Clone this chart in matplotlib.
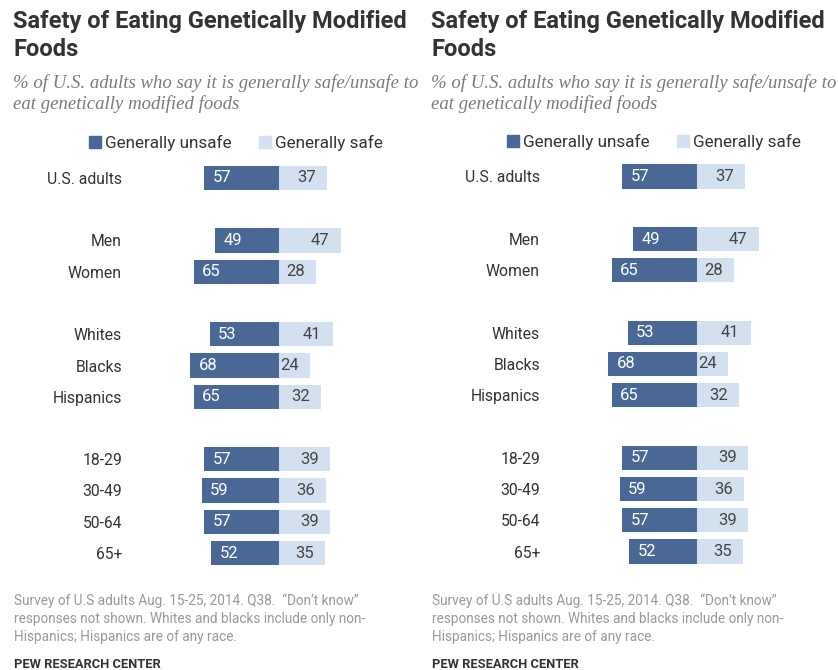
import matplotlib.pyplot as plt
from matplotlib.patches import Patch

# data
categories = ["U.S. adults", "Men", "Women", "Whites", "Blacks", "Hispanics",
              "18-29", "30-49", "50-64", "65+"]
group_sizes = [1, 2, 3, 4]
unsafe = [57, 49, 65, 53, 68, 65, 57, 59, 57, 52]
safe = [37, 47, 28, 41, 24, 32, 39, 36, 39, 35]
series_names = ["Generally unsafe", "Generally safe"]

title = "Safety of Eating Genetically Modified\nFoods"
subtitle = "% of U.S. adults who say it is generally safe/unsafe to\neat genetically modified foods"
note = ("Survey of U.S adults Aug. 15-25, 2014. Q38.  \u201cDon\u2019t know\u201d\n"
        "responses not shown. Whites and blacks include only non-\n"
        "Hispanics; Hispanics are of any race.")
source = "PEW RESEARCH CENTER"

DARK = "#4a6895"
LIGHT = "#d3e0f0"
W, H = 838, 670
SANS = ["Roboto", "DejaVu Sans"]
STEP = 31.25   # px per row
SCALE = 1.31   # px per percentage point

fig = plt.figure(figsize=(W / 100, H / 100), dpi=100)


def row_positions():
    pos = []
    r = 0
    for g in group_sizes:
        for _ in range(g):
            pos.append(r)
            r += 1
        r += 1
    return pos


def draw_panel(dx, dy):
    div = 279 + dx
    top0 = 178 + dy
    rows = row_positions()
    lo, hi = -0.6, rows[-1] + 0.6
    ax_top = top0 + lo * STEP
    ax_h = (hi - lo) * STEP
    ax_w = 200 * SCALE
    ax = fig.add_axes([(div - 100 * SCALE) / W, 1 - (ax_top + ax_h) / H,
                       ax_w / W, ax_h / H])
    ax.barh(rows, [-u for u in unsafe], height=0.77, color=DARK)
    ax.barh(rows, safe, height=0.77, color=LIGHT)
    for y, u, s in zip(rows, unsafe, safe):
        ax.text(-u + 6.5, y, str(u), ha="left", va="center", color="white",
                fontsize=12, family=SANS)
        ax.text(s - 8.5, y, str(s), ha="right", va="center", color="#444444",
                fontsize=12, family=SANS)
    ax.set_xlim(-100, 100)
    ax.set_ylim(hi, lo)
    ax.set_yticks(rows, categories, fontsize=11.3, color="#333333", family=SANS)
    ax.tick_params(axis="y", length=0, pad=(div - 100 * SCALE - (122 + dx)) * 0.72)
    ax.set_xticks([])
    for sp in ax.spines.values():
        sp.set_visible(False)

    fig.text((13 + dx) / W, 1 - 10 / H, title, ha="left", va="top",
             fontsize=17, fontweight="bold", color="#333333",
             family=["Roboto", "DejaVu Sans"], linespacing=1.25)
    fig.text((13 + dx) / W, 1 - 74 / H, subtitle, ha="left", va="top",
             fontsize=13.5, style="italic", color="#7a7a7a",
             family=["Liberation Serif", "DejaVu Serif"], linespacing=1.25)
    handles = [Patch(color=DARK), Patch(color=LIGHT)]
    fig.legend(handles, series_names, loc="center", ncol=2, frameon=False,
               bbox_to_anchor=((236 + dx) / W, 1 - (143 + dy) / H),
               prop={"family": SANS, "size": 12.3}, handlelength=0.7,
               handleheight=0.7, handletextpad=0.25, columnspacing=1.6,
               labelcolor="#333333")
    fig.text((14 + dx) / W, 1 - 593 / H, note, ha="left", va="top",
             fontsize=9.8, color="#999999", family=SANS, linespacing=1.4)
    fig.text((14 + dx) / W, 1 - 664 / H, source, ha="left", va="center",
             fontsize=9.3, fontweight="bold", color="#333333", family=SANS)


draw_panel(0, 0)
draw_panel(418, -1.5)

fig.savefig("out.png", dpi=100, facecolor="white")
